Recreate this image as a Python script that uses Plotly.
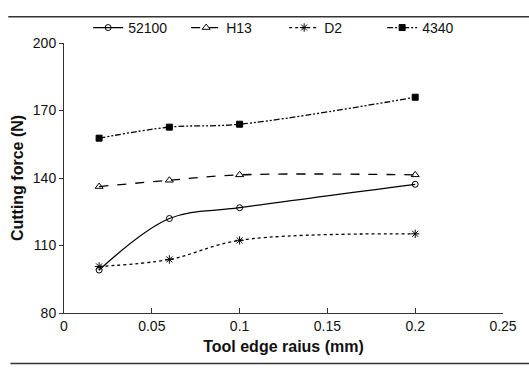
import plotly.graph_objects as go

radius = [0.02, 0.06, 0.1, 0.2]
series_names = ["52100", "H13", "D2", "4340"]
force_52100 = [99.1, 122.0, 126.8, 137.2]
force_h13 = [136.2, 139.0, 141.4, 141.4]
force_d2 = [100.7, 103.8, 112.3, 115.2]
force_4340 = [157.7, 162.6, 163.9, 175.9]
x_ticks = [0, 0.05, 0.1, 0.15, 0.2, 0.25]
x_tick_labels = ["0", "0.05", "0.1", "0.15", "0.2", "0.25"]
y_ticks = [80, 110, 140, 170, 200]

values = [force_52100, force_h13, force_d2, force_4340]
dashes = ["solid", "dash", "dot", "6px,2px,2px,2px,2px,2px"]
symbols = ["circle-open", "triangle-up-open", "asterisk-open", "square"]
sizes = [6, 7, 7, 6]

fig = go.Figure()
for name, vals, d, s, sz in zip(series_names, values, dashes, symbols, sizes):
    fig.add_trace(go.Scatter(
        x=radius, y=vals, name=name, mode="lines+markers",
        line=dict(color="black", width=1.3, dash=d, shape="spline", smoothing=1.0),
        marker=dict(symbol=s, size=sz, color="black", line=dict(color="black", width=1)),
    ))

font = "Liberation Sans, Arial, sans-serif"
fig.update_layout(
    width=529, height=369,
    margin=dict(l=64, r=24, t=35, b=56),
    paper_bgcolor="white", plot_bgcolor="white",
    font=dict(family=font, size=14, color="#111"),
    showlegend=True,
    legend=dict(orientation="h", x=0.055, y=1.115, xanchor="left", yanchor="top",
                font=dict(size=14), entrywidth=53, entrywidthmode="pixels",
                bgcolor="rgba(0,0,0,0)", tracegroupgap=0),
    xaxis=dict(range=[0, 0.25], tickvals=x_ticks, ticktext=x_tick_labels,
               showgrid=False, zeroline=False, showline=True, linecolor="#333", linewidth=1,
               ticks="inside", ticklen=5, tickcolor="#333",
               title=dict(text="<b>Tool edge raius (mm)</b>", font=dict(size=16), standoff=8)),
    yaxis=dict(range=[80, 200], tickvals=y_ticks,
               showgrid=False, zeroline=False, showline=True, linecolor="#333", linewidth=1,
               ticks="outside", ticklen=4, tickcolor="#333",
               title=dict(text="<b>Cutting force (N)</b>", font=dict(size=16), standoff=5)),
    shapes=[
        dict(type="line", xref="paper", yref="paper", x0=-0.127, x1=1.06, y0=1.097, y1=1.097,
             line=dict(color="#333", width=1.5)),
        dict(type="line", xref="paper", yref="paper", x0=-0.122, x1=1.06, y0=-0.187, y1=-0.187,
             line=dict(color="#333", width=1.5)),
    ],
)

fig.write_html("out.html")
